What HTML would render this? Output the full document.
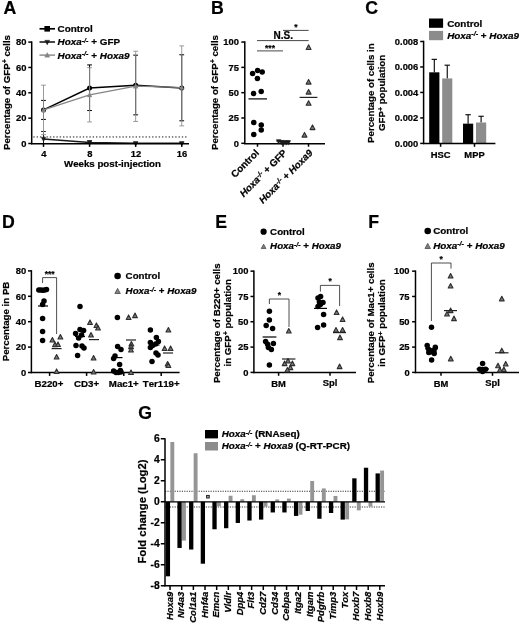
<!DOCTYPE html>
<html lang="en">
<head>
<meta charset="utf-8">
<title>Figure</title>
<style>
html,body{margin:0;padding:0;background:#fff;}
svg{display:block;}
svg text{font-family:"Liberation Sans","Arial",sans-serif;font-weight:bold;fill:#000;stroke:#000;stroke-width:0.22px;font-kerning:none;}
</style>
</head>
<body>
<svg width="520" height="624" viewBox="0 0 520 624">
<rect x="0" y="0" width="520" height="624" fill="#fff"/>
<text x="3.4" y="13.8" font-size="17.7" text-anchor="start">A</text>
<line x1="33.3" y1="136.96" x2="187" y2="136.96" stroke="#000" stroke-width="0.9" stroke-dasharray="1.4 1.9"/>
<line x1="43.5" y1="119.42" x2="43.5" y2="100.41" stroke="#000" stroke-width="1"/>
<line x1="41.1" y1="119.42" x2="45.9" y2="119.42" stroke="#000" stroke-width="1"/>
<line x1="41.1" y1="100.41" x2="45.9" y2="100.41" stroke="#000" stroke-width="1"/>
<line x1="89.58" y1="110.55" x2="89.58" y2="64.91" stroke="#000" stroke-width="1"/>
<line x1="87.18" y1="110.55" x2="91.98" y2="110.55" stroke="#000" stroke-width="1"/>
<line x1="87.18" y1="64.91" x2="91.98" y2="64.91" stroke="#000" stroke-width="1"/>
<line x1="135.66" y1="114.85" x2="135.66" y2="55.16" stroke="#000" stroke-width="1"/>
<line x1="133.26" y1="114.85" x2="138.06" y2="114.85" stroke="#000" stroke-width="1"/>
<line x1="133.26" y1="55.16" x2="138.06" y2="55.16" stroke="#000" stroke-width="1"/>
<line x1="181.74" y1="120.81" x2="181.74" y2="54.77" stroke="#000" stroke-width="1"/>
<line x1="179.34" y1="120.81" x2="184.14" y2="120.81" stroke="#000" stroke-width="1"/>
<line x1="179.34" y1="54.77" x2="184.14" y2="54.77" stroke="#000" stroke-width="1"/>
<polyline fill="none" stroke="#000" stroke-width="1.5" points="43.5,109.91 89.58,87.98 135.66,85.19 181.74,87.98"/>
<circle cx="43.5" cy="109.91" r="2.5" fill="#000"/>
<circle cx="89.58" cy="87.98" r="2.5" fill="#000"/>
<circle cx="135.66" cy="85.19" r="2.5" fill="#000"/>
<circle cx="181.74" cy="87.98" r="2.5" fill="#000"/>
<line x1="43.5" y1="143.5" x2="43.5" y2="131.46" stroke="#222" stroke-width="1"/>
<line x1="41.1" y1="143.5" x2="45.9" y2="143.5" stroke="#222" stroke-width="1"/>
<line x1="41.1" y1="131.46" x2="45.9" y2="131.46" stroke="#222" stroke-width="1"/>
<line x1="89.58" y1="143.5" x2="89.58" y2="140.71" stroke="#222" stroke-width="1"/>
<line x1="87.18" y1="143.5" x2="91.98" y2="143.5" stroke="#222" stroke-width="1"/>
<line x1="87.18" y1="140.71" x2="91.98" y2="140.71" stroke="#222" stroke-width="1"/>
<line x1="135.66" y1="143.5" x2="135.66" y2="142.23" stroke="#222" stroke-width="1"/>
<line x1="133.26" y1="143.5" x2="138.06" y2="143.5" stroke="#222" stroke-width="1"/>
<line x1="133.26" y1="142.23" x2="138.06" y2="142.23" stroke="#222" stroke-width="1"/>
<line x1="181.74" y1="143.5" x2="181.74" y2="142.23" stroke="#222" stroke-width="1"/>
<line x1="179.34" y1="143.5" x2="184.14" y2="143.5" stroke="#222" stroke-width="1"/>
<line x1="179.34" y1="142.23" x2="184.14" y2="142.23" stroke="#222" stroke-width="1"/>
<polyline fill="none" stroke="#1a1a1a" stroke-width="1.5" points="43.5,138.94 89.58,142.49 135.66,143.31 181.74,143.31"/>
<polygon points="43.5,141.75 41.1,137.19 45.9,137.19" fill="#1a1a1a" stroke="#1a1a1a" stroke-width="0.3" stroke-linejoin="round"/>
<polygon points="89.58,145.29 87.18,140.73 91.98,140.73" fill="#1a1a1a" stroke="#1a1a1a" stroke-width="0.3" stroke-linejoin="round"/>
<polygon points="135.66,146.12 133.26,141.56 138.06,141.56" fill="#1a1a1a" stroke="#1a1a1a" stroke-width="0.3" stroke-linejoin="round"/>
<polygon points="181.74,146.12 179.34,141.56 184.14,141.56" fill="#1a1a1a" stroke="#1a1a1a" stroke-width="0.3" stroke-linejoin="round"/>
<line x1="43.5" y1="134.63" x2="43.5" y2="85.19" stroke="#8e8e8e" stroke-width="0.9"/>
<line x1="41.1" y1="134.63" x2="45.9" y2="134.63" stroke="#8e8e8e" stroke-width="0.9"/>
<line x1="41.1" y1="85.19" x2="45.9" y2="85.19" stroke="#8e8e8e" stroke-width="0.9"/>
<line x1="89.58" y1="121.95" x2="89.58" y2="67.7" stroke="#8e8e8e" stroke-width="0.9"/>
<line x1="87.18" y1="121.95" x2="91.98" y2="121.95" stroke="#8e8e8e" stroke-width="0.9"/>
<line x1="87.18" y1="67.7" x2="91.98" y2="67.7" stroke="#8e8e8e" stroke-width="0.9"/>
<line x1="135.66" y1="121.45" x2="135.66" y2="51.23" stroke="#8e8e8e" stroke-width="0.9"/>
<line x1="133.26" y1="121.45" x2="138.06" y2="121.45" stroke="#8e8e8e" stroke-width="0.9"/>
<line x1="133.26" y1="51.23" x2="138.06" y2="51.23" stroke="#8e8e8e" stroke-width="0.9"/>
<line x1="181.74" y1="125.88" x2="181.74" y2="45.9" stroke="#8e8e8e" stroke-width="0.9"/>
<line x1="179.34" y1="125.88" x2="184.14" y2="125.88" stroke="#8e8e8e" stroke-width="0.9"/>
<line x1="179.34" y1="45.9" x2="184.14" y2="45.9" stroke="#8e8e8e" stroke-width="0.9"/>
<polyline fill="none" stroke="#858585" stroke-width="1.2" points="43.5,109.91 89.58,94.95 135.66,86.21 181.74,87.48"/>
<polygon points="43.5,107.4 41.1,111.96 45.9,111.96" fill="#858585" stroke="#858585" stroke-width="0.3" stroke-linejoin="round"/>
<polygon points="89.58,92.45 87.18,97.01 91.98,97.01" fill="#858585" stroke="#858585" stroke-width="0.3" stroke-linejoin="round"/>
<polygon points="135.66,83.7 133.26,88.26 138.06,88.26" fill="#858585" stroke="#858585" stroke-width="0.3" stroke-linejoin="round"/>
<polygon points="181.74,84.97 179.34,89.53 184.14,89.53" fill="#858585" stroke="#858585" stroke-width="0.3" stroke-linejoin="round"/>
<line x1="31.7" y1="41.35" x2="31.7" y2="144.25" stroke="#000" stroke-width="1.5"/>
<line x1="30.95" y1="143.7" x2="189" y2="143.7" stroke="#000" stroke-width="1.5"/>
<line x1="28.3" y1="143.5" x2="31.7" y2="143.5" stroke="#000" stroke-width="1.5"/>
<text x="26.5" y="146.8" font-size="9.4" text-anchor="end">0</text>
<line x1="28.3" y1="118.15" x2="31.7" y2="118.15" stroke="#000" stroke-width="1.5"/>
<text x="26.5" y="121.45" font-size="9.4" text-anchor="end">20</text>
<line x1="28.3" y1="92.8" x2="31.7" y2="92.8" stroke="#000" stroke-width="1.5"/>
<text x="26.5" y="96.1" font-size="9.4" text-anchor="end">40</text>
<line x1="28.3" y1="67.45" x2="31.7" y2="67.45" stroke="#000" stroke-width="1.5"/>
<text x="26.5" y="70.75" font-size="9.4" text-anchor="end">60</text>
<line x1="28.3" y1="42.1" x2="31.7" y2="42.1" stroke="#000" stroke-width="1.5"/>
<text x="26.5" y="45.4" font-size="9.4" text-anchor="end">80</text>
<line x1="43.5" y1="143.5" x2="43.5" y2="146.9" stroke="#000" stroke-width="1.5"/>
<text x="43.8" y="156.5" font-size="9.4" text-anchor="middle">4</text>
<line x1="89.58" y1="143.5" x2="89.58" y2="146.9" stroke="#000" stroke-width="1.5"/>
<text x="89.88" y="156.5" font-size="9.4" text-anchor="middle">8</text>
<line x1="135.66" y1="143.5" x2="135.66" y2="146.9" stroke="#000" stroke-width="1.5"/>
<text x="135.96" y="156.5" font-size="9.4" text-anchor="middle">12</text>
<line x1="181.74" y1="143.5" x2="181.74" y2="146.9" stroke="#000" stroke-width="1.5"/>
<text x="182.04" y="156.5" font-size="9.4" text-anchor="middle">16</text>
<text x="112.5" y="167.3" font-size="9.7" text-anchor="middle">Weeks post-injection</text>
<text x="9.6" y="92.5" font-size="9.7" text-anchor="middle" transform="rotate(-90 9.6 92.5)">Percentage of GFP<tspan font-size="6.98" dy="-2.62">+</tspan><tspan dy="2.62"> cells</tspan></text>
<line x1="39.5" y1="28.8" x2="55" y2="28.8" stroke="#000" stroke-width="1.7"/>
<rect x="44.4" y="26" width="5.6" height="5.6" fill="#000"/>
<text x="57.6" y="32.2" font-size="9.9" text-anchor="start">Control</text>
<line x1="39.5" y1="42" x2="55" y2="42" stroke="#1a1a1a" stroke-width="1.6"/>
<polygon points="47.2,44.91 44.7,40.16 49.7,40.16" fill="#1a1a1a" stroke="#1a1a1a" stroke-width="0.3" stroke-linejoin="round"/>
<text x="57.6" y="45.4" font-size="9.9" text-anchor="start"><tspan font-style="italic">Hoxa</tspan><tspan font-size="7.13" dy="-2.67"><tspan font-style="italic">-/-</tspan></tspan><tspan dy="2.67"> + GFP</tspan></text>
<line x1="39.5" y1="55.1" x2="55" y2="55.1" stroke="#858585" stroke-width="1.4"/>
<polygon points="47.2,52.38 44.6,57.32 49.8,57.32" fill="#858585" stroke="#858585" stroke-width="0.3" stroke-linejoin="round"/>
<text x="57.6" y="58.5" font-size="9.9" text-anchor="start"><tspan font-style="italic">Hoxa</tspan><tspan font-size="7.13" dy="-2.67"><tspan font-style="italic">-/-</tspan></tspan><tspan dy="2.67"> + <tspan font-style="italic">Hoxa9</tspan></tspan></text>
<text x="210.9" y="13.6" font-size="17.7" text-anchor="start">B</text>
<line x1="244.8" y1="41.3" x2="244.8" y2="144.05" stroke="#000" stroke-width="1.5"/>
<line x1="244.05" y1="143.7" x2="325" y2="143.7" stroke="#000" stroke-width="1.5"/>
<line x1="241.3" y1="143.3" x2="244.8" y2="143.3" stroke="#000" stroke-width="1.5"/>
<text x="238.9" y="146.6" font-size="9.4" text-anchor="end">0</text>
<line x1="241.3" y1="117.99" x2="244.8" y2="117.99" stroke="#000" stroke-width="1.5"/>
<text x="238.9" y="121.29" font-size="9.4" text-anchor="end">25</text>
<line x1="241.3" y1="92.68" x2="244.8" y2="92.68" stroke="#000" stroke-width="1.5"/>
<text x="238.9" y="95.98" font-size="9.4" text-anchor="end">50</text>
<line x1="241.3" y1="67.36" x2="244.8" y2="67.36" stroke="#000" stroke-width="1.5"/>
<text x="238.9" y="70.66" font-size="9.4" text-anchor="end">75</text>
<line x1="241.3" y1="42.05" x2="244.8" y2="42.05" stroke="#000" stroke-width="1.5"/>
<text x="238.9" y="45.35" font-size="9.4" text-anchor="end">100</text>
<line x1="257.5" y1="143.3" x2="257.5" y2="146.7" stroke="#000" stroke-width="1.5"/>
<line x1="283" y1="143.3" x2="283" y2="146.7" stroke="#000" stroke-width="1.5"/>
<line x1="308.5" y1="143.3" x2="308.5" y2="146.7" stroke="#000" stroke-width="1.5"/>
<circle cx="252.6" cy="73.6" r="2.75" fill="#000"/>
<circle cx="257.6" cy="70.4" r="2.75" fill="#000"/>
<circle cx="262.2" cy="72" r="2.75" fill="#000"/>
<circle cx="257.4" cy="78.6" r="2.75" fill="#000"/>
<circle cx="253.6" cy="93.6" r="2.75" fill="#000"/>
<circle cx="261.2" cy="91.4" r="2.75" fill="#000"/>
<circle cx="253.75" cy="122.5" r="2.75" fill="#000"/>
<circle cx="261.25" cy="125" r="2.75" fill="#000"/>
<circle cx="261.25" cy="130" r="2.75" fill="#000"/>
<circle cx="253.75" cy="134.5" r="2.75" fill="#000"/>
<line x1="248.5" y1="98.9" x2="267" y2="98.9" stroke="#000" stroke-width="1.2"/>
<polygon points="278.6,144.11 276.2,139.55 281,139.55" fill="#1a1a1a" stroke="#1a1a1a" stroke-width="0.3" stroke-linejoin="round"/>
<polygon points="281.4,144.91 279,140.35 283.8,140.35" fill="#1a1a1a" stroke="#1a1a1a" stroke-width="0.3" stroke-linejoin="round"/>
<polygon points="283.8,145.31 281.4,140.75 286.2,140.75" fill="#1a1a1a" stroke="#1a1a1a" stroke-width="0.3" stroke-linejoin="round"/>
<polygon points="286.2,145.31 283.8,140.75 288.6,140.75" fill="#1a1a1a" stroke="#1a1a1a" stroke-width="0.3" stroke-linejoin="round"/>
<polygon points="288.4,145.11 286,140.55 290.8,140.55" fill="#1a1a1a" stroke="#1a1a1a" stroke-width="0.3" stroke-linejoin="round"/>
<line x1="276.3" y1="141" x2="290" y2="141" stroke="#1a1a1a" stroke-width="1"/>
<polygon points="308.6,44.84 306.15,49.49 311.05,49.49" fill="#787878" stroke="#2e2e2e" stroke-width="1.1" stroke-linejoin="round"/>
<polygon points="308.6,79.44 306.15,84.09 311.05,84.09" fill="#787878" stroke="#2e2e2e" stroke-width="1.1" stroke-linejoin="round"/>
<polygon points="308.6,89.44 306.15,94.09 311.05,94.09" fill="#787878" stroke="#2e2e2e" stroke-width="1.1" stroke-linejoin="round"/>
<polygon points="308.6,100.64 306.15,105.29 311.05,105.29" fill="#787878" stroke="#2e2e2e" stroke-width="1.1" stroke-linejoin="round"/>
<polygon points="312.5,124.94 310.05,129.59 314.95,129.59" fill="#787878" stroke="#2e2e2e" stroke-width="1.1" stroke-linejoin="round"/>
<polygon points="304.5,132.44 302.05,137.09 306.95,137.09" fill="#787878" stroke="#2e2e2e" stroke-width="1.1" stroke-linejoin="round"/>
<line x1="299.6" y1="97.4" x2="317.4" y2="97.4" stroke="#222" stroke-width="1.2"/>
<line x1="257" y1="50.9" x2="283" y2="50.9" stroke="#333" stroke-width="0.9"/>
<text x="270" y="50.6" font-size="8.5" text-anchor="middle">***</text>
<line x1="257" y1="40.6" x2="308.6" y2="40.6" stroke="#333" stroke-width="0.9"/>
<text x="283.3" y="39.2" font-size="10" text-anchor="middle">N.S.</text>
<line x1="283" y1="30.4" x2="308.6" y2="30.4" stroke="#333" stroke-width="0.9"/>
<text x="296" y="30.4" font-size="8.5" text-anchor="middle">*</text>
<text x="259.6" y="153.6" font-size="9.8" text-anchor="end" transform="rotate(-45 259.6 153.6)">Control</text>
<text x="287.5" y="153.6" font-size="9.8" text-anchor="end" transform="rotate(-45 287.5 153.6)"><tspan font-style="italic">Hoxa</tspan><tspan font-size="7.06" dy="-2.65"><tspan font-style="italic">-/-</tspan></tspan><tspan dy="2.65"> + GFP</tspan></text>
<text x="313.3" y="153.6" font-size="9.8" text-anchor="end" transform="rotate(-45 313.3 153.6)"><tspan font-style="italic">Hoxa</tspan><tspan font-size="7.06" dy="-2.65"><tspan font-style="italic">-/-</tspan></tspan><tspan dy="2.65"> + <tspan font-style="italic">Hoxa9</tspan></tspan></text>
<text x="217.7" y="92.5" font-size="9.7" text-anchor="middle" transform="rotate(-90 217.7 92.5)">Percentage of GFP<tspan font-size="6.98" dy="-2.62">+</tspan><tspan dy="2.62"> cells</tspan></text>
<text x="365.3" y="13.8" font-size="17.7" text-anchor="start">C</text>
<line x1="434.3" y1="72.32" x2="434.3" y2="59.33" stroke="#000" stroke-width="1.1"/>
<line x1="431.6" y1="59.33" x2="437" y2="59.33" stroke="#000" stroke-width="1.1"/>
<rect x="429.2" y="72.32" width="10.2" height="71.08" fill="#000"/>
<line x1="447.25" y1="78.44" x2="447.25" y2="65.19" stroke="#000" stroke-width="1.1"/>
<line x1="444.55" y1="65.19" x2="449.95" y2="65.19" stroke="#000" stroke-width="1.1"/>
<rect x="442.2" y="78.44" width="10.1" height="64.96" fill="#8c8c8c"/>
<line x1="468.1" y1="123.66" x2="468.1" y2="114.74" stroke="#000" stroke-width="1.1"/>
<line x1="465.4" y1="114.74" x2="470.8" y2="114.74" stroke="#000" stroke-width="1.1"/>
<rect x="463" y="123.66" width="10.2" height="19.74" fill="#000"/>
<line x1="481.1" y1="122.51" x2="481.1" y2="116.27" stroke="#000" stroke-width="1.1"/>
<line x1="478.4" y1="116.27" x2="483.8" y2="116.27" stroke="#000" stroke-width="1.1"/>
<rect x="476" y="122.51" width="10.2" height="20.89" fill="#8c8c8c"/>
<line x1="423.6" y1="40.75" x2="423.6" y2="144.15" stroke="#000" stroke-width="1.5"/>
<line x1="423" y1="143.4" x2="495.4" y2="143.4" stroke="#000" stroke-width="1.5"/>
<line x1="420.2" y1="143.4" x2="423.6" y2="143.4" stroke="#000" stroke-width="1.5"/>
<text x="418.3" y="146.7" font-size="9.4" text-anchor="end">0.000</text>
<line x1="420.2" y1="117.93" x2="423.6" y2="117.93" stroke="#000" stroke-width="1.5"/>
<text x="418.3" y="121.23" font-size="9.4" text-anchor="end">0.002</text>
<line x1="420.2" y1="92.45" x2="423.6" y2="92.45" stroke="#000" stroke-width="1.5"/>
<text x="418.3" y="95.75" font-size="9.4" text-anchor="end">0.004</text>
<line x1="420.2" y1="66.97" x2="423.6" y2="66.97" stroke="#000" stroke-width="1.5"/>
<text x="418.3" y="70.27" font-size="9.4" text-anchor="end">0.006</text>
<line x1="420.2" y1="41.5" x2="423.6" y2="41.5" stroke="#000" stroke-width="1.5"/>
<text x="418.3" y="44.8" font-size="9.4" text-anchor="end">0.008</text>
<line x1="440.6" y1="143.4" x2="440.6" y2="146.8" stroke="#000" stroke-width="1.5"/>
<line x1="474.5" y1="143.4" x2="474.5" y2="146.8" stroke="#000" stroke-width="1.5"/>
<text x="440.6" y="157.8" font-size="9.4" text-anchor="middle">HSC</text>
<text x="474.5" y="157.8" font-size="9.4" text-anchor="middle">MPP</text>
<rect x="429" y="18.5" width="14.1" height="9.3" fill="#000"/>
<rect x="429" y="30.9" width="14.1" height="9.3" fill="#8c8c8c"/>
<text x="447.2" y="26.8" font-size="9.9" text-anchor="start">Control</text>
<text x="447.2" y="38.8" font-size="9.9" text-anchor="start"><tspan font-style="italic">Hoxa</tspan><tspan font-size="7.13" dy="-2.67"><tspan font-style="italic">-/-</tspan></tspan><tspan dy="2.67"> + <tspan font-style="italic">Hoxa9</tspan></tspan></text>
<text x="373.8" y="93.1" font-size="9.7" text-anchor="middle" transform="rotate(-90 373.8 93.1)">Percentage of cells in</text>
<text x="385.2" y="92.9" font-size="9.7" text-anchor="middle" transform="rotate(-90 385.2 92.9)">GFP<tspan font-size="6.98" dy="-2.62">+</tspan><tspan dy="2.62"> population</tspan></text>
<text x="1.9" y="227.6" font-size="17.7" text-anchor="start">D</text>
<line x1="31.4" y1="270.15" x2="31.4" y2="373.25" stroke="#000" stroke-width="1.5"/>
<line x1="30.8" y1="372.5" x2="179.6" y2="372.5" stroke="#000" stroke-width="1.5"/>
<line x1="28" y1="372.5" x2="31.4" y2="372.5" stroke="#000" stroke-width="1.5"/>
<text x="26.2" y="375.8" font-size="9.4" text-anchor="end">0</text>
<line x1="28" y1="347.1" x2="31.4" y2="347.1" stroke="#000" stroke-width="1.5"/>
<text x="26.2" y="350.4" font-size="9.4" text-anchor="end">20</text>
<line x1="28" y1="321.7" x2="31.4" y2="321.7" stroke="#000" stroke-width="1.5"/>
<text x="26.2" y="325" font-size="9.4" text-anchor="end">40</text>
<line x1="28" y1="296.3" x2="31.4" y2="296.3" stroke="#000" stroke-width="1.5"/>
<text x="26.2" y="299.6" font-size="9.4" text-anchor="end">60</text>
<line x1="28" y1="270.9" x2="31.4" y2="270.9" stroke="#000" stroke-width="1.5"/>
<text x="26.2" y="274.2" font-size="9.4" text-anchor="end">80</text>
<line x1="49.6" y1="372.5" x2="49.6" y2="375.9" stroke="#000" stroke-width="1.5"/>
<text x="49" y="386.5" font-size="9.7" text-anchor="middle">B220+</text>
<line x1="86.6" y1="372.5" x2="86.6" y2="375.9" stroke="#000" stroke-width="1.5"/>
<text x="86.6" y="386.5" font-size="9.7" text-anchor="middle">CD3+</text>
<line x1="123.8" y1="372.5" x2="123.8" y2="375.9" stroke="#000" stroke-width="1.5"/>
<text x="123.8" y="386.5" font-size="9.7" text-anchor="middle">Mac1+</text>
<line x1="161.2" y1="372.5" x2="161.2" y2="375.9" stroke="#000" stroke-width="1.5"/>
<text x="161.2" y="386.5" font-size="9.7" text-anchor="middle">Ter119+</text>
<circle cx="38.8" cy="290" r="2.75" fill="#000"/>
<circle cx="40.8" cy="290" r="2.75" fill="#000"/>
<circle cx="42.8" cy="290.3" r="2.75" fill="#000"/>
<circle cx="44.8" cy="290" r="2.75" fill="#000"/>
<circle cx="46.5" cy="289.6" r="2.75" fill="#000"/>
<circle cx="44" cy="301" r="2.75" fill="#000"/>
<circle cx="42.6" cy="304.6" r="2.75" fill="#000"/>
<circle cx="42.6" cy="318.4" r="2.75" fill="#000"/>
<circle cx="42.6" cy="331.6" r="2.75" fill="#000"/>
<circle cx="42.6" cy="340.6" r="2.75" fill="#000"/>
<line x1="38" y1="306" x2="48" y2="306" stroke="#000" stroke-width="1.2"/>
<polygon points="52.4,337.49 50,342.05 54.8,342.05" fill="#787878" stroke="#2e2e2e" stroke-width="1.1" stroke-linejoin="round"/>
<polygon points="60.4,334.49 58,339.05 62.8,339.05" fill="#787878" stroke="#2e2e2e" stroke-width="1.1" stroke-linejoin="round"/>
<polygon points="55,342.09 52.6,346.65 57.4,346.65" fill="#787878" stroke="#2e2e2e" stroke-width="1.1" stroke-linejoin="round"/>
<polygon points="58,341.89 55.6,346.45 60.4,346.45" fill="#787878" stroke="#2e2e2e" stroke-width="1.1" stroke-linejoin="round"/>
<polygon points="56.6,354.49 54.2,359.05 59,359.05" fill="#787878" stroke="#2e2e2e" stroke-width="1.1" stroke-linejoin="round"/>
<polygon points="56.6,368.89 54.2,373.45 59,373.45" fill="#787878" stroke="#2e2e2e" stroke-width="1.1" stroke-linejoin="round"/>
<line x1="51.6" y1="348.6" x2="61.6" y2="348.6" stroke="#222" stroke-width="1.2"/>
<polyline fill="none" stroke="#222" stroke-width="0.8" points="42.6,283 42.6,277.6 56.6,277.6 56.6,334"/>
<text x="49.6" y="277.4" font-size="8.5" text-anchor="middle">***</text>
<circle cx="80" cy="306.4" r="2.75" fill="#000"/>
<circle cx="80" cy="329.4" r="2.75" fill="#000"/>
<circle cx="83.6" cy="330.6" r="2.75" fill="#000"/>
<circle cx="75.6" cy="333.4" r="2.75" fill="#000"/>
<circle cx="81.6" cy="335" r="2.75" fill="#000"/>
<circle cx="78.6" cy="338" r="2.75" fill="#000"/>
<circle cx="76" cy="345.4" r="2.75" fill="#000"/>
<circle cx="82" cy="346" r="2.75" fill="#000"/>
<circle cx="84" cy="348" r="2.75" fill="#000"/>
<circle cx="77.6" cy="355.4" r="2.75" fill="#000"/>
<line x1="75" y1="336.5" x2="85" y2="336.5" stroke="#000" stroke-width="1.2"/>
<polygon points="90,319.89 87.6,324.45 92.4,324.45" fill="#787878" stroke="#2e2e2e" stroke-width="1.1" stroke-linejoin="round"/>
<polygon points="96.4,322.89 94,327.45 98.8,327.45" fill="#787878" stroke="#2e2e2e" stroke-width="1.1" stroke-linejoin="round"/>
<polygon points="98,325.49 95.6,330.05 100.4,330.05" fill="#787878" stroke="#2e2e2e" stroke-width="1.1" stroke-linejoin="round"/>
<polygon points="91,332.49 88.6,337.05 93.4,337.05" fill="#787878" stroke="#2e2e2e" stroke-width="1.1" stroke-linejoin="round"/>
<polygon points="93.6,355.49 91.2,360.05 96,360.05" fill="#787878" stroke="#2e2e2e" stroke-width="1.1" stroke-linejoin="round"/>
<polygon points="93.6,369.49 91.2,374.05 96,374.05" fill="#787878" stroke="#2e2e2e" stroke-width="1.1" stroke-linejoin="round"/>
<line x1="89" y1="339.6" x2="99" y2="339.6" stroke="#222" stroke-width="1.2"/>
<circle cx="117.4" cy="317.4" r="2.75" fill="#000"/>
<circle cx="117.6" cy="346.4" r="2.75" fill="#000"/>
<circle cx="121" cy="349.6" r="2.75" fill="#000"/>
<circle cx="115" cy="356" r="2.75" fill="#000"/>
<circle cx="113.6" cy="358.6" r="2.75" fill="#000"/>
<circle cx="119.6" cy="364.6" r="2.75" fill="#000"/>
<circle cx="120.4" cy="370.6" r="2.75" fill="#000"/>
<circle cx="113.6" cy="371" r="2.75" fill="#000"/>
<circle cx="116" cy="372.4" r="2.75" fill="#000"/>
<circle cx="118.4" cy="372.4" r="2.75" fill="#000"/>
<circle cx="121" cy="372" r="2.75" fill="#000"/>
<line x1="113" y1="357.6" x2="122.5" y2="357.6" stroke="#000" stroke-width="1.2"/>
<polygon points="128.6,314.89 126.2,319.45 131,319.45" fill="#787878" stroke="#2e2e2e" stroke-width="1.1" stroke-linejoin="round"/>
<polygon points="135,313.09 132.6,317.65 137.4,317.65" fill="#787878" stroke="#2e2e2e" stroke-width="1.1" stroke-linejoin="round"/>
<polygon points="131.4,341.49 129,346.05 133.8,346.05" fill="#787878" stroke="#2e2e2e" stroke-width="1.1" stroke-linejoin="round"/>
<polygon points="131,344.09 128.6,348.65 133.4,348.65" fill="#787878" stroke="#2e2e2e" stroke-width="1.1" stroke-linejoin="round"/>
<polygon points="131,347.49 128.6,352.05 133.4,352.05" fill="#787878" stroke="#2e2e2e" stroke-width="1.1" stroke-linejoin="round"/>
<polygon points="131,369.89 128.6,374.45 133.4,374.45" fill="#787878" stroke="#2e2e2e" stroke-width="1.1" stroke-linejoin="round"/>
<line x1="126" y1="340" x2="136" y2="340" stroke="#222" stroke-width="1.2"/>
<circle cx="150.4" cy="330" r="2.75" fill="#000"/>
<circle cx="156.4" cy="337.4" r="2.75" fill="#000"/>
<circle cx="158.4" cy="341.4" r="2.75" fill="#000"/>
<circle cx="150.4" cy="342.6" r="2.75" fill="#000"/>
<circle cx="155.6" cy="344" r="2.75" fill="#000"/>
<circle cx="152.6" cy="345.4" r="2.75" fill="#000"/>
<circle cx="150.4" cy="347.4" r="2.75" fill="#000"/>
<circle cx="156" cy="353" r="2.75" fill="#000"/>
<circle cx="158" cy="355" r="2.75" fill="#000"/>
<circle cx="152" cy="361.4" r="2.75" fill="#000"/>
<line x1="149.5" y1="345" x2="159.5" y2="345" stroke="#000" stroke-width="1.2"/>
<polygon points="168.4,327.49 166,332.05 170.8,332.05" fill="#787878" stroke="#2e2e2e" stroke-width="1.1" stroke-linejoin="round"/>
<polygon points="164.6,345.89 162.2,350.45 167,350.45" fill="#787878" stroke="#2e2e2e" stroke-width="1.1" stroke-linejoin="round"/>
<polygon points="170.6,345.89 168.2,350.45 173,350.45" fill="#787878" stroke="#2e2e2e" stroke-width="1.1" stroke-linejoin="round"/>
<polygon points="167.6,361.49 165.2,366.05 170,366.05" fill="#787878" stroke="#2e2e2e" stroke-width="1.1" stroke-linejoin="round"/>
<polygon points="168.4,362.89 166,367.45 170.8,367.45" fill="#787878" stroke="#2e2e2e" stroke-width="1.1" stroke-linejoin="round"/>
<line x1="163" y1="353" x2="173" y2="353" stroke="#222" stroke-width="1.2"/>
<circle cx="117.6" cy="276" r="3.3" fill="#000"/>
<text x="125.6" y="279.3" font-size="9.75" text-anchor="start">Control</text>
<polygon points="117.6,288.38 114.9,293.51 120.3,293.51" fill="#808080" stroke="#555" stroke-width="0.9" stroke-linejoin="round"/>
<text x="125.6" y="294.3" font-size="9.75" text-anchor="start"><tspan font-style="italic">Hoxa</tspan><tspan font-size="7.02" dy="-2.63"><tspan font-style="italic">-/-</tspan></tspan><tspan dy="2.63"> + <tspan font-style="italic">Hoxa9</tspan></tspan></text>
<text x="9.3" y="321.5" font-size="9.7" text-anchor="middle" transform="rotate(-90 9.3 321.5)">Percentage in PB</text>
<text x="215.2" y="227.6" font-size="17.7" text-anchor="start">E</text>
<line x1="253.9" y1="270.4" x2="253.9" y2="373.15" stroke="#000" stroke-width="1.5"/>
<line x1="253.3" y1="372.4" x2="356" y2="372.4" stroke="#000" stroke-width="1.5"/>
<line x1="250.5" y1="372.4" x2="253.9" y2="372.4" stroke="#000" stroke-width="1.5"/>
<text x="248.4" y="375.7" font-size="9.4" text-anchor="end">0</text>
<line x1="250.5" y1="347.09" x2="253.9" y2="347.09" stroke="#000" stroke-width="1.5"/>
<text x="248.4" y="350.39" font-size="9.4" text-anchor="end">25</text>
<line x1="250.5" y1="321.77" x2="253.9" y2="321.77" stroke="#000" stroke-width="1.5"/>
<text x="248.4" y="325.07" font-size="9.4" text-anchor="end">50</text>
<line x1="250.5" y1="296.46" x2="253.9" y2="296.46" stroke="#000" stroke-width="1.5"/>
<text x="248.4" y="299.76" font-size="9.4" text-anchor="end">75</text>
<line x1="250.5" y1="271.15" x2="253.9" y2="271.15" stroke="#000" stroke-width="1.5"/>
<text x="248.4" y="274.45" font-size="9.4" text-anchor="end">100</text>
<line x1="278.6" y1="372.4" x2="278.6" y2="375.8" stroke="#000" stroke-width="1.5"/>
<text x="278.6" y="387.3" font-size="9.4" text-anchor="middle">BM</text>
<line x1="330" y1="372.4" x2="330" y2="375.8" stroke="#000" stroke-width="1.5"/>
<text x="330" y="385.7" font-size="9.4" text-anchor="middle">Spl</text>
<circle cx="269.4" cy="311.2" r="2.75" fill="#000"/>
<circle cx="269.4" cy="320" r="2.75" fill="#000"/>
<circle cx="266.2" cy="325.6" r="2.75" fill="#000"/>
<circle cx="272.6" cy="328.6" r="2.75" fill="#000"/>
<circle cx="265.6" cy="341.6" r="2.75" fill="#000"/>
<circle cx="273.4" cy="343.4" r="2.75" fill="#000"/>
<circle cx="267.6" cy="344.2" r="2.75" fill="#000"/>
<circle cx="268.4" cy="347.4" r="2.75" fill="#000"/>
<circle cx="271.4" cy="349.6" r="2.75" fill="#000"/>
<circle cx="269.4" cy="365" r="2.75" fill="#000"/>
<line x1="262.6" y1="337" x2="276.4" y2="337" stroke="#000" stroke-width="1.2"/>
<polygon points="288.8,328.49 286.4,333.05 291.2,333.05" fill="#787878" stroke="#2e2e2e" stroke-width="1.1" stroke-linejoin="round"/>
<polygon points="288,358.49 285.6,363.05 290.4,363.05" fill="#787878" stroke="#2e2e2e" stroke-width="1.1" stroke-linejoin="round"/>
<polygon points="284.6,361.09 282.2,365.65 287,365.65" fill="#787878" stroke="#2e2e2e" stroke-width="1.1" stroke-linejoin="round"/>
<polygon points="292.4,361.09 290,365.65 294.8,365.65" fill="#787878" stroke="#2e2e2e" stroke-width="1.1" stroke-linejoin="round"/>
<polygon points="290.4,365.09 288,369.65 292.8,369.65" fill="#787878" stroke="#2e2e2e" stroke-width="1.1" stroke-linejoin="round"/>
<polygon points="287.4,367.49 285,372.05 289.8,372.05" fill="#787878" stroke="#2e2e2e" stroke-width="1.1" stroke-linejoin="round"/>
<line x1="282" y1="359" x2="295.4" y2="359" stroke="#222" stroke-width="1.2"/>
<polyline fill="none" stroke="#222" stroke-width="0.8" points="269.4,304 269.4,299 289,299 289,327"/>
<text x="279.4" y="297.8" font-size="8.5" text-anchor="middle">*</text>
<circle cx="320.6" cy="296.4" r="2.75" fill="#000"/>
<circle cx="318" cy="298" r="2.75" fill="#000"/>
<circle cx="319.4" cy="302" r="2.75" fill="#000"/>
<circle cx="323" cy="302.4" r="2.75" fill="#000"/>
<circle cx="320.4" cy="304.6" r="2.75" fill="#000"/>
<circle cx="318" cy="306.6" r="2.75" fill="#000"/>
<circle cx="323.6" cy="314.4" r="2.75" fill="#000"/>
<circle cx="323.6" cy="325" r="2.75" fill="#000"/>
<circle cx="317.6" cy="327.4" r="2.75" fill="#000"/>
<line x1="314" y1="308.4" x2="327" y2="308.4" stroke="#000" stroke-width="1.2"/>
<polygon points="336.6,309.89 334.2,314.45 339,314.45" fill="#787878" stroke="#2e2e2e" stroke-width="1.1" stroke-linejoin="round"/>
<polygon points="342.6,316.89 340.2,321.45 345,321.45" fill="#787878" stroke="#2e2e2e" stroke-width="1.1" stroke-linejoin="round"/>
<polygon points="336,327.49 333.6,332.05 338.4,332.05" fill="#787878" stroke="#2e2e2e" stroke-width="1.1" stroke-linejoin="round"/>
<polygon points="342.6,327.49 340.2,332.05 345,332.05" fill="#787878" stroke="#2e2e2e" stroke-width="1.1" stroke-linejoin="round"/>
<polygon points="340,335.09 337.6,339.65 342.4,339.65" fill="#787878" stroke="#2e2e2e" stroke-width="1.1" stroke-linejoin="round"/>
<polygon points="339.6,364.09 337.2,368.65 342,368.65" fill="#787878" stroke="#2e2e2e" stroke-width="1.1" stroke-linejoin="round"/>
<line x1="333" y1="332.6" x2="346" y2="332.6" stroke="#222" stroke-width="1.2"/>
<polyline fill="none" stroke="#222" stroke-width="0.8" points="320.4,291.6 320.4,285.4 339.6,285.4 339.6,306"/>
<text x="330.2" y="284.4" font-size="8.5" text-anchor="middle">*</text>
<circle cx="263.6" cy="231.7" r="3.1" fill="#000"/>
<text x="270.1" y="234.5" font-size="9.75" text-anchor="start">Control</text>
<polygon points="263.6,244.2 261.3,248.57 265.9,248.57" fill="#808080" stroke="#555" stroke-width="0.9" stroke-linejoin="round"/>
<text x="270.1" y="249.4" font-size="9.75" text-anchor="start"><tspan font-style="italic">Hoxa</tspan><tspan font-size="7.02" dy="-2.63"><tspan font-style="italic">-/-</tspan></tspan><tspan dy="2.63"> + <tspan font-style="italic">Hoxa9</tspan></tspan></text>
<text x="219.6" y="323.2" font-size="9.7" text-anchor="middle" transform="rotate(-90 219.6 323.2)">Percentage of B220+ cells</text>
<text x="231" y="322.8" font-size="9.7" text-anchor="middle" transform="rotate(-90 231 322.8)">in GFP<tspan font-size="6.98" dy="-2.62">+</tspan><tspan dy="2.62"> population</tspan></text>
<text x="368.2" y="227.6" font-size="17.7" text-anchor="start">F</text>
<line x1="415.5" y1="270.4" x2="415.5" y2="373.15" stroke="#000" stroke-width="1.5"/>
<line x1="414.9" y1="372.4" x2="519" y2="372.4" stroke="#000" stroke-width="1.5"/>
<line x1="412.1" y1="372.4" x2="415.5" y2="372.4" stroke="#000" stroke-width="1.5"/>
<text x="409.6" y="375.7" font-size="9.4" text-anchor="end">0</text>
<line x1="412.1" y1="347.09" x2="415.5" y2="347.09" stroke="#000" stroke-width="1.5"/>
<text x="409.6" y="350.39" font-size="9.4" text-anchor="end">25</text>
<line x1="412.1" y1="321.77" x2="415.5" y2="321.77" stroke="#000" stroke-width="1.5"/>
<text x="409.6" y="325.07" font-size="9.4" text-anchor="end">50</text>
<line x1="412.1" y1="296.46" x2="415.5" y2="296.46" stroke="#000" stroke-width="1.5"/>
<text x="409.6" y="299.76" font-size="9.4" text-anchor="end">75</text>
<line x1="412.1" y1="271.15" x2="415.5" y2="271.15" stroke="#000" stroke-width="1.5"/>
<text x="409.6" y="274.45" font-size="9.4" text-anchor="end">100</text>
<line x1="441" y1="372.4" x2="441" y2="375.8" stroke="#000" stroke-width="1.5"/>
<text x="441" y="387.3" font-size="9.4" text-anchor="middle">BM</text>
<line x1="492.5" y1="372.4" x2="492.5" y2="375.8" stroke="#000" stroke-width="1.5"/>
<text x="492.5" y="385.7" font-size="9.4" text-anchor="middle">Spl</text>
<circle cx="431.5" cy="327.2" r="2.75" fill="#000"/>
<circle cx="427.2" cy="345.4" r="2.75" fill="#000"/>
<circle cx="435.3" cy="347.2" r="2.75" fill="#000"/>
<circle cx="428.8" cy="349.5" r="2.75" fill="#000"/>
<circle cx="434" cy="350.5" r="2.75" fill="#000"/>
<circle cx="431.2" cy="351.8" r="2.75" fill="#000"/>
<circle cx="428.8" cy="352.6" r="2.75" fill="#000"/>
<circle cx="434.2" cy="353.5" r="2.75" fill="#000"/>
<circle cx="431.6" cy="360" r="2.75" fill="#000"/>
<line x1="425" y1="348.8" x2="438" y2="348.8" stroke="#000" stroke-width="1.2"/>
<polygon points="450.6,273.49 448.2,278.05 453,278.05" fill="#787878" stroke="#2e2e2e" stroke-width="1.1" stroke-linejoin="round"/>
<polygon points="450.6,283.49 448.2,288.05 453,288.05" fill="#787878" stroke="#2e2e2e" stroke-width="1.1" stroke-linejoin="round"/>
<polygon points="450.6,308.09 448.2,312.65 453,312.65" fill="#787878" stroke="#2e2e2e" stroke-width="1.1" stroke-linejoin="round"/>
<polygon points="447,311.49 444.6,316.05 449.4,316.05" fill="#787878" stroke="#2e2e2e" stroke-width="1.1" stroke-linejoin="round"/>
<polygon points="454,316.09 451.6,320.65 456.4,320.65" fill="#787878" stroke="#2e2e2e" stroke-width="1.1" stroke-linejoin="round"/>
<polygon points="450.8,356.29 448.4,360.85 453.2,360.85" fill="#787878" stroke="#2e2e2e" stroke-width="1.1" stroke-linejoin="round"/>
<line x1="444" y1="310.6" x2="457" y2="310.6" stroke="#222" stroke-width="1.2"/>
<polyline fill="none" stroke="#222" stroke-width="0.8" points="431.4,321 431.4,263 451,263 451,268.6"/>
<text x="441.2" y="262.4" font-size="8.5" text-anchor="middle">*</text>
<circle cx="482.6" cy="363.4" r="2.75" fill="#000"/>
<circle cx="479.8" cy="369.2" r="2.75" fill="#000"/>
<circle cx="482.6" cy="369.6" r="2.75" fill="#000"/>
<circle cx="485.6" cy="369.2" r="2.75" fill="#000"/>
<circle cx="482.6" cy="371.4" r="2.75" fill="#000"/>
<line x1="476.5" y1="369" x2="489" y2="369" stroke="#000" stroke-width="1.2"/>
<polygon points="501.8,296.29 499.4,300.85 504.2,300.85" fill="#787878" stroke="#2e2e2e" stroke-width="1.1" stroke-linejoin="round"/>
<polygon points="501.8,348.19 499.4,352.75 504.2,352.75" fill="#787878" stroke="#2e2e2e" stroke-width="1.1" stroke-linejoin="round"/>
<polygon points="498,363.19 495.6,367.75 500.4,367.75" fill="#787878" stroke="#2e2e2e" stroke-width="1.1" stroke-linejoin="round"/>
<polygon points="505.7,361.39 503.3,365.95 508.1,365.95" fill="#787878" stroke="#2e2e2e" stroke-width="1.1" stroke-linejoin="round"/>
<polygon points="499.9,367.49 497.5,372.05 502.3,372.05" fill="#787878" stroke="#2e2e2e" stroke-width="1.1" stroke-linejoin="round"/>
<polygon points="503.9,367.09 501.5,371.65 506.3,371.65" fill="#787878" stroke="#2e2e2e" stroke-width="1.1" stroke-linejoin="round"/>
<line x1="495" y1="352.8" x2="508.5" y2="352.8" stroke="#222" stroke-width="1.2"/>
<circle cx="427.7" cy="231" r="3.3" fill="#000"/>
<text x="433.2" y="234.4" font-size="9.85" text-anchor="start">Control</text>
<polygon points="427.7,243.38 425,248.51 430.4,248.51" fill="#808080" stroke="#555" stroke-width="0.9" stroke-linejoin="round"/>
<text x="433.2" y="249" font-size="9.85" text-anchor="start"><tspan font-style="italic">Hoxa</tspan><tspan font-size="7.09" dy="-2.66"><tspan font-style="italic">-/-</tspan></tspan><tspan dy="2.66"> + <tspan font-style="italic">Hoxa9</tspan></tspan></text>
<text x="373.9" y="322.8" font-size="9.7" text-anchor="middle" transform="rotate(-90 373.9 322.8)">Percentage of Mac1+ cells</text>
<text x="385.4" y="323" font-size="9.7" text-anchor="middle" transform="rotate(-90 385.4 323)">in GFP<tspan font-size="6.98" dy="-2.62">+</tspan><tspan dy="2.62"> population</tspan></text>
<text x="138.2" y="418.8" font-size="17.7" text-anchor="start">G</text>
<line x1="165" y1="491.25" x2="385" y2="491.25" stroke="#222" stroke-width="0.9" stroke-dasharray="1.2 1.2"/>
<line x1="165" y1="507" x2="385" y2="507" stroke="#222" stroke-width="0.9" stroke-dasharray="1.2 1.2"/>
<rect x="165.75" y="501.75" width="4.3" height="74.55" fill="#000"/>
<rect x="170.35" y="442" width="3.9" height="59.75" fill="#959595"/>
<line x1="170.05" y1="585.75" x2="170.05" y2="590" stroke="#000" stroke-width="1.5"/>
<text x="172.75" y="591.6" font-size="9.5" text-anchor="end" font-style="italic" transform="rotate(-90 172.75 591.6)">Hoxa9</text>
<rect x="177.41" y="501.75" width="4.3" height="46.2" fill="#000"/>
<rect x="182" y="501.75" width="3.9" height="38.85" fill="#959595"/>
<line x1="181.71" y1="585.75" x2="181.71" y2="590" stroke="#000" stroke-width="1.5"/>
<text x="184.41" y="591.6" font-size="9.5" text-anchor="end" font-style="italic" transform="rotate(-90 184.41 591.6)">Nr4a3</text>
<rect x="189.06" y="501.75" width="4.3" height="47.77" fill="#000"/>
<rect x="193.66" y="453.24" width="3.9" height="48.51" fill="#959595"/>
<line x1="193.36" y1="585.75" x2="193.36" y2="590" stroke="#000" stroke-width="1.5"/>
<text x="196.06" y="591.6" font-size="9.5" text-anchor="end" font-style="italic" transform="rotate(-90 196.06 591.6)">Col1a1</text>
<rect x="200.72" y="501.75" width="4.3" height="61.95" fill="#000"/>
<rect x="206.62" y="495.4" width="2.6" height="2.6" fill="#aaa" stroke="#111" stroke-width="0.9"/>
<line x1="205.02" y1="585.75" x2="205.02" y2="590" stroke="#000" stroke-width="1.5"/>
<text x="207.72" y="591.6" font-size="9.5" text-anchor="end" font-style="italic" transform="rotate(-90 207.72 591.6)">Hnf4a</text>
<rect x="212.37" y="501.75" width="4.3" height="27.51" fill="#000"/>
<rect x="216.97" y="501.75" width="3.9" height="4.51" fill="#959595"/>
<line x1="216.67" y1="585.75" x2="216.67" y2="590" stroke="#000" stroke-width="1.5"/>
<text x="219.37" y="591.6" font-size="9.5" text-anchor="end" font-style="italic" transform="rotate(-90 219.37 591.6)">Emcn</text>
<rect x="224.03" y="501.75" width="4.3" height="26.46" fill="#000"/>
<rect x="228.62" y="495.76" width="3.9" height="5.99" fill="#959595"/>
<line x1="228.33" y1="585.75" x2="228.33" y2="590" stroke="#000" stroke-width="1.5"/>
<text x="231.03" y="591.6" font-size="9.5" text-anchor="end" font-style="italic" transform="rotate(-90 231.03 591.6)">Vldlr</text>
<rect x="235.68" y="501.75" width="4.3" height="21.21" fill="#000"/>
<rect x="240.28" y="499.23" width="3.9" height="2.52" fill="#959595"/>
<line x1="239.98" y1="585.75" x2="239.98" y2="590" stroke="#000" stroke-width="1.5"/>
<text x="242.68" y="591.6" font-size="9.5" text-anchor="end" font-style="italic" transform="rotate(-90 242.68 591.6)">Dpp4</text>
<rect x="247.33" y="501.75" width="4.3" height="18.79" fill="#000"/>
<rect x="251.93" y="495.24" width="3.9" height="6.51" fill="#959595"/>
<line x1="251.63" y1="585.75" x2="251.63" y2="590" stroke="#000" stroke-width="1.5"/>
<text x="254.33" y="591.6" font-size="9.5" text-anchor="end" font-style="italic" transform="rotate(-90 254.33 591.6)">Flt3</text>
<rect x="258.99" y="501.75" width="4.3" height="17.85" fill="#000"/>
<rect x="263.59" y="501.75" width="3.9" height="4.83" fill="#959595"/>
<line x1="263.29" y1="585.75" x2="263.29" y2="590" stroke="#000" stroke-width="1.5"/>
<text x="265.99" y="591.6" font-size="9.5" text-anchor="end" font-style="italic" transform="rotate(-90 265.99 591.6)">Cd27</text>
<rect x="270.64" y="501.75" width="4.3" height="10.71" fill="#000"/>
<rect x="275.25" y="499.44" width="3.9" height="2.31" fill="#959595"/>
<line x1="274.94" y1="585.75" x2="274.94" y2="590" stroke="#000" stroke-width="1.5"/>
<text x="277.64" y="591.6" font-size="9.5" text-anchor="end" font-style="italic" transform="rotate(-90 277.64 591.6)">Cd34</text>
<rect x="282.3" y="501.75" width="4.3" height="10.71" fill="#000"/>
<rect x="286.9" y="498.6" width="3.9" height="3.15" fill="#959595"/>
<line x1="286.6" y1="585.75" x2="286.6" y2="590" stroke="#000" stroke-width="1.5"/>
<text x="289.3" y="591.6" font-size="9.5" text-anchor="end" font-style="italic" transform="rotate(-90 289.3 591.6)">Cebpa</text>
<rect x="293.95" y="501.75" width="4.3" height="14.17" fill="#000"/>
<rect x="298.56" y="501.75" width="3.9" height="12.91" fill="#959595"/>
<line x1="298.25" y1="585.75" x2="298.25" y2="590" stroke="#000" stroke-width="1.5"/>
<text x="300.95" y="591.6" font-size="9.5" text-anchor="end" font-style="italic" transform="rotate(-90 300.95 591.6)">Itga2</text>
<rect x="305.61" y="501.75" width="4.3" height="9.24" fill="#000"/>
<rect x="310.21" y="480.96" width="3.9" height="20.79" fill="#959595"/>
<line x1="309.91" y1="585.75" x2="309.91" y2="590" stroke="#000" stroke-width="1.5"/>
<text x="312.61" y="591.6" font-size="9.5" text-anchor="end" font-style="italic" transform="rotate(-90 312.61 591.6)">Itgam</text>
<rect x="317.26" y="501.75" width="4.3" height="17.01" fill="#000"/>
<rect x="321.87" y="488.42" width="3.9" height="13.33" fill="#959595"/>
<line x1="321.56" y1="585.75" x2="321.56" y2="590" stroke="#000" stroke-width="1.5"/>
<text x="324.26" y="591.6" font-size="9.5" text-anchor="end" font-style="italic" transform="rotate(-90 324.26 591.6)">Pdgfrb</text>
<rect x="328.92" y="501.75" width="4.3" height="11.24" fill="#000"/>
<rect x="333.52" y="495.98" width="3.9" height="5.77" fill="#959595"/>
<line x1="333.22" y1="585.75" x2="333.22" y2="590" stroke="#000" stroke-width="1.5"/>
<text x="335.92" y="591.6" font-size="9.5" text-anchor="end" font-style="italic" transform="rotate(-90 335.92 591.6)">Timp3</text>
<rect x="340.57" y="501.75" width="4.3" height="17.85" fill="#000"/>
<rect x="345.18" y="501.75" width="3.9" height="17.64" fill="#959595"/>
<line x1="344.88" y1="585.75" x2="344.88" y2="590" stroke="#000" stroke-width="1.5"/>
<text x="347.57" y="591.6" font-size="9.5" text-anchor="end" font-style="italic" transform="rotate(-90 347.57 591.6)">Tox</text>
<rect x="352.23" y="478.33" width="4.3" height="23.42" fill="#000"/>
<rect x="356.83" y="501.75" width="3.9" height="8.61" fill="#959595"/>
<line x1="356.53" y1="585.75" x2="356.53" y2="590" stroke="#000" stroke-width="1.5"/>
<text x="359.23" y="591.6" font-size="9.5" text-anchor="end" font-style="italic" transform="rotate(-90 359.23 591.6)">Hoxb7</text>
<rect x="363.88" y="467.73" width="4.3" height="34.02" fill="#000"/>
<rect x="368.49" y="501.75" width="3.9" height="4.83" fill="#959595"/>
<line x1="368.19" y1="585.75" x2="368.19" y2="590" stroke="#000" stroke-width="1.5"/>
<text x="370.88" y="591.6" font-size="9.5" text-anchor="end" font-style="italic" transform="rotate(-90 370.88 591.6)">Hoxb8</text>
<rect x="375.54" y="473.4" width="4.3" height="28.35" fill="#000"/>
<rect x="380.14" y="470.56" width="3.9" height="31.19" fill="#959595"/>
<line x1="379.84" y1="585.75" x2="379.84" y2="590" stroke="#000" stroke-width="1.5"/>
<text x="382.54" y="591.6" font-size="9.5" text-anchor="end" font-style="italic" transform="rotate(-90 382.54 591.6)">Hoxb9</text>
<line x1="165" y1="438.15" x2="165" y2="586.35" stroke="#000" stroke-width="1.5"/>
<line x1="164.4" y1="585.75" x2="385" y2="585.75" stroke="#000" stroke-width="1.5"/>
<line x1="165" y1="501.75" x2="385" y2="501.75" stroke="#000" stroke-width="1.25"/>
<line x1="160.8" y1="438.75" x2="165" y2="438.75" stroke="#000" stroke-width="1.5"/>
<text x="159.7" y="442.45" font-size="10.3" text-anchor="end">6</text>
<line x1="160.8" y1="459.75" x2="165" y2="459.75" stroke="#000" stroke-width="1.5"/>
<text x="159.7" y="463.45" font-size="10.3" text-anchor="end">4</text>
<line x1="160.8" y1="480.75" x2="165" y2="480.75" stroke="#000" stroke-width="1.5"/>
<text x="159.7" y="484.45" font-size="10.3" text-anchor="end">2</text>
<line x1="160.8" y1="501.75" x2="165" y2="501.75" stroke="#000" stroke-width="1.5"/>
<text x="159.7" y="505.45" font-size="10.3" text-anchor="end">0</text>
<line x1="160.8" y1="522.75" x2="165" y2="522.75" stroke="#000" stroke-width="1.5"/>
<text x="159.7" y="526.45" font-size="10.3" text-anchor="end">-2</text>
<line x1="160.8" y1="543.75" x2="165" y2="543.75" stroke="#000" stroke-width="1.5"/>
<text x="159.7" y="547.45" font-size="10.3" text-anchor="end">-4</text>
<line x1="160.8" y1="564.75" x2="165" y2="564.75" stroke="#000" stroke-width="1.5"/>
<text x="159.7" y="568.45" font-size="10.3" text-anchor="end">-6</text>
<line x1="160.8" y1="585.75" x2="165" y2="585.75" stroke="#000" stroke-width="1.5"/>
<text x="159.7" y="589.45" font-size="10.3" text-anchor="end">-8</text>
<rect x="205" y="430" width="13" height="8.4" fill="#000"/>
<rect x="205" y="442" width="13" height="8.5" fill="#8c8c8c"/>
<text x="221.7" y="437.4" font-size="9.8" text-anchor="start"><tspan font-style="italic">Hoxa</tspan><tspan font-size="7.06" dy="-2.65"><tspan font-style="italic">-/-</tspan></tspan><tspan dy="2.65"> (RNAseq)</tspan></text>
<text x="221.7" y="449.4" font-size="9.8" text-anchor="start"><tspan font-style="italic">Hoxa</tspan><tspan font-size="7.06" dy="-2.65"><tspan font-style="italic">-/-</tspan></tspan><tspan dy="2.65"> + <tspan font-style="italic">Hoxa9</tspan> (Q-RT-PCR)</tspan></text>
<text x="145.7" y="511.5" font-size="11.3" text-anchor="middle" transform="rotate(-90 145.7 511.5)">Fold change (Log2)</text>
</svg>
</body>
</html>
